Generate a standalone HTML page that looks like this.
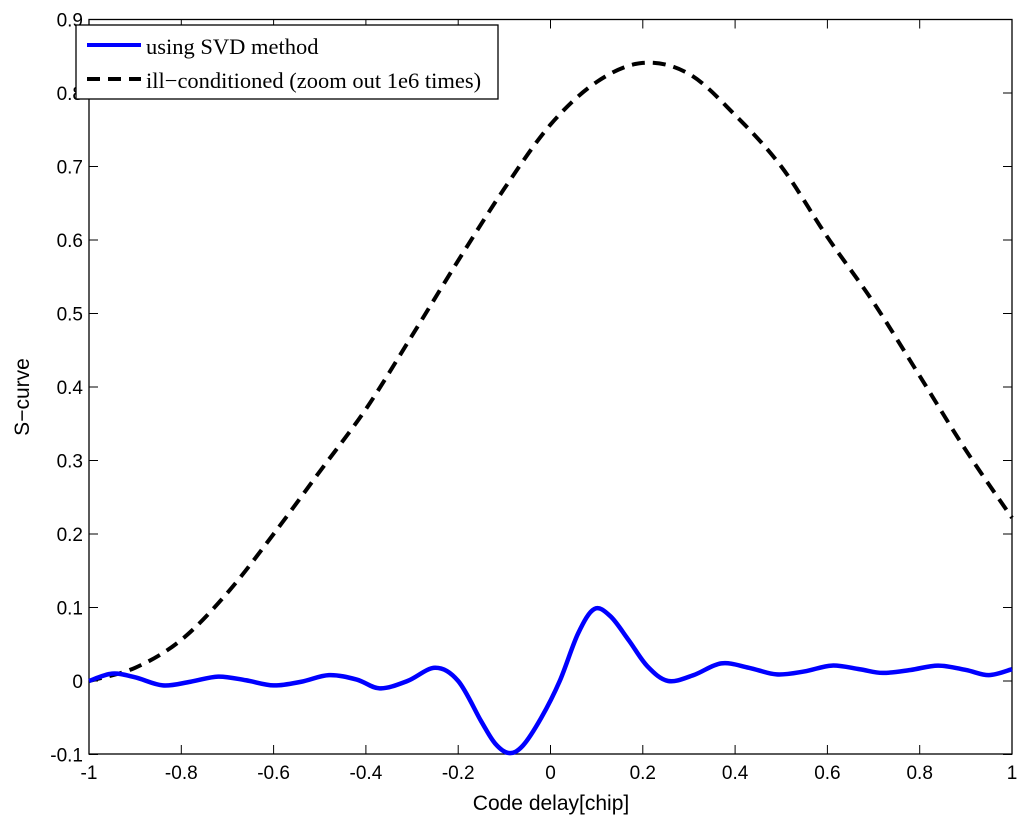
<!DOCTYPE html>
<html><head><meta charset="utf-8"><style>
body{margin:0;background:#fff;width:1024px;height:824px;overflow:hidden}
svg text{font-family:"Liberation Sans",sans-serif}
</style></head><body>
<svg id="chart" width="1024" height="824">
<g id="axes"></g><g id="series"></g><g id="legend"></g>
</svg>
<script>
const xTicks=[-1,-0.8,-0.6,-0.4,-0.2,0,0.2,0.4,0.6,0.8,1];
const xTickLabels=["-1","-0.8","-0.6","-0.4","-0.2","0","0.2","0.4","0.6","0.8","1"];
const yTicks=[-0.1,0,0.1,0.2,0.3,0.4,0.5,0.6,0.7,0.8,0.9];
const yTickLabels=["-0.1","0","0.1","0.2","0.3","0.4","0.5","0.6","0.7","0.8","0.9"];
const svdX=[-1,-0.95,-0.9,-0.84,-0.78,-0.72,-0.66,-0.6,-0.54,-0.48,-0.42,-0.37,-0.31,-0.25,-0.2,-0.15,-0.12,-0.09,-0.06,-0.02,0.02,0.06,0.095,0.13,0.17,0.21,0.255,0.31,0.37,0.43,0.49,0.55,0.61,0.67,0.72,0.78,0.84,0.9,0.95,1];
const svdY=[0,0.01,0.005,-0.006,-0.001,0.006,0.001,-0.006,-0.001,0.008,0.002,-0.01,0.0,0.018,0.0,-0.055,-0.085,-0.098,-0.088,-0.05,0.0,0.065,0.098,0.088,0.055,0.02,0.0,0.008,0.024,0.018,0.009,0.013,0.021,0.016,0.011,0.015,0.021,0.015,0.008,0.016];
const illX=[-1,-0.9,-0.8,-0.7,-0.6,-0.5,-0.4,-0.3,-0.2,-0.1,0,0.1,0.2,0.3,0.4,0.5,0.6,0.7,0.8,0.9,1];
const illY=[0,0.018,0.056,0.12,0.2,0.285,0.37,0.47,0.572,0.67,0.757,0.815,0.841,0.826,0.77,0.7,0.604,0.515,0.415,0.314,0.222];
const L=89,R=1012,T=19.5,B=754;
const sx=v=>L+(v+1)/2*(R-L);
const sy=v=>681-v*735;
const NS="http://www.w3.org/2000/svg";
function mk(tag,attrs,parent,txt){const e=document.createElementNS(NS,tag);for(const k in attrs)e.setAttribute(k,attrs[k]);if(txt!==undefined)e.textContent=txt;parent.appendChild(e);return e;}
const ax=document.getElementById('axes');
let f=mk('rect',{x:L,y:T,width:R-L,height:B-T,fill:'none',stroke:'#000','stroke-width':1.3},ax);


xTicks.forEach((v,i)=>{const x=sx(v);
mk('line',{x1:x,x2:x,y1:B,y2:B-9,stroke:'#000'},ax);mk('line',{x1:x,x2:x,y1:T,y2:T+9,stroke:'#000'},ax);
const t=mk('text',{x:x,y:B+25,'text-anchor':'middle','font-size':19},ax,xTickLabels[i]);

});
yTicks.forEach((v,i)=>{const y=sy(v);
mk('line',{x1:L,x2:L+9,y1:y,y2:y,stroke:'#000'},ax);mk('line',{x1:R,x2:R-9,y1:y,y2:y,stroke:'#000'},ax);
const t=mk('text',{x:L-6,y:y+7,'text-anchor':'end','font-size':19},ax,yTickLabels[i]);

});
let xt=mk('text',{x:551,y:810,'text-anchor':'middle','font-size':21},ax,'Code delay[chip]');


let yt=mk('text',{x:29,y:397,'text-anchor':'middle','font-size':21,transform:'rotate(-90 29 397)'},ax,'S\u2212curve');


const se=document.getElementById('series');
function smooth(xs,ys){let d='M'+sx(xs[0])+','+sy(ys[0]);for(let i=0;i<xs.length-1;i++){const a=Math.max(0,i-1),c=Math.min(xs.length-1,i+2);const p0=[sx(xs[a]),sy(ys[a])],p1=[sx(xs[i]),sy(ys[i])],p2=[sx(xs[i+1]),sy(ys[i+1])],p3=[sx(xs[c]),sy(ys[c])];
d+=`C${p1[0]+(p2[0]-p0[0])/6},${p1[1]+(p2[1]-p0[1])/6} ${p2[0]-(p3[0]-p1[0])/6},${p2[1]-(p3[1]-p1[1])/6} ${p2[0]},${p2[1]}`;}return d;}
let l1=mk('path',{d:smooth(illX,illY),fill:'none',stroke:'#000','stroke-width':4,'stroke-dasharray':'13,8'},se);


let l2=mk('path',{d:smooth(svdX,svdY),fill:'none',stroke:'#0000ff','stroke-width':4.5},se);


const lg=document.getElementById('legend');
let box=mk('rect',{x:76,y:25,width:422,height:74,fill:'#fff',stroke:'#000','stroke-width':1.3},lg);


mk('line',{x1:87,x2:141,y1:45,y2:45,stroke:'#0000ff','stroke-width':4},lg);
mk('line',{x1:87,x2:141,y1:79,y2:79,stroke:'#000','stroke-width':4,'stroke-dasharray':'13,8'},lg);
let e1=mk('text',{x:146,y:54,'font-size':22.5,style:'font-family:"Liberation Serif",serif'},lg,'using SVD method');


let e2=mk('text',{x:146,y:88,'font-size':22.5,style:'font-family:"Liberation Serif",serif'},lg,'ill\u2212conditioned (zoom out 1e6 times)');


</script>
</body></html>
